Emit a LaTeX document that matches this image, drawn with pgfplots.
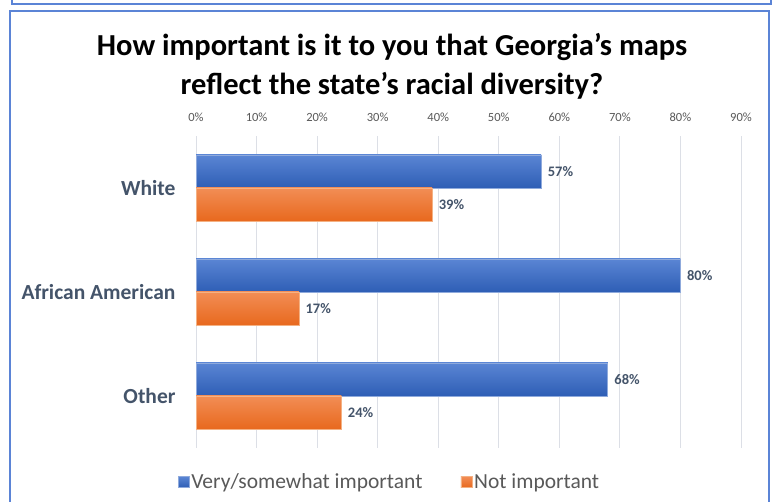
\documentclass[border=0pt]{standalone}
\usepackage{pgfplots}
\pgfplotsset{compat=1.18}
\usepackage{fontspec}
\setmainfont{Carlito}
\definecolor{boxblue}{HTML}{5B84D6}
\definecolor{blueT}{HTML}{5A85D4}
\definecolor{blueB}{HTML}{2E5EB5}
\definecolor{blueE}{HTML}{8FAADC}
\definecolor{orT}{HTML}{F28D55}
\definecolor{orB}{HTML}{E8691E}
\definecolor{orE}{HTML}{F4B183}
\definecolor{labgray}{HTML}{44546A}
\definecolor{tickgray}{HTML}{595959}
\definecolor{gridgray}{HTML}{DCDFE6}
\pgfplotsset{
  bluebar/.style={bar shift=16.5pt, top color=blueT, bottom color=blueB, draw=blueE, line width=0.6pt},
  orbar/.style={bar shift=-16.5pt, top color=orT, bottom color=orB, draw=orE, line width=0.6pt},
}
\begin{document}
\begin{tikzpicture}[x=1pt,y=1pt]
\useasboundingbox (0,0) rectangle (776,502);
\fill[white] (0,0) rectangle (776,502);
\draw[boxblue, line width=2pt] (12,510) -- (12,498) -- (771,498) -- (771,510);
\draw[boxblue, line width=2pt] (10,-10) -- (10,491) -- (769,491) -- (769,-10);
\node[font=\bfseries\fontsize{30.5}{39}\selectfont, align=center] at (392,436) {How important is it to you that Georgia’s maps\\reflect the state’s racial diversity?};
\begin{axis}[
  at={(196pt,54pt)}, anchor=south west,
  scale only axis, width=545pt, height=312pt,
  xmin=0, xmax=90, ymin=0.5, ymax=3.5,
  xtick={0,10,...,90},
  xticklabel pos=upper,
  xticklabel={\pgfmathprintnumber{\tick}\%},
  /pgf/number format/assume math mode=true,
  ytick={1,2,3},
  yticklabels={Other,African American,White},
  axis line style={draw=none},
  major tick length=0pt,
  xmajorgrids,
  grid style={color=gridgray, line width=0.8pt},
  xticklabel style={font=\fontsize{12.5}{14}\selectfont, text=tickgray, yshift=11pt},
  yticklabel style={font=\bfseries\fontsize{21.5}{24}\selectfont, text=labgray, xshift=-17pt},
  xbar, bar width=33pt,
  point meta=x,
  nodes near coords={\pgfmathprintnumber{\pgfplotspointmeta}\%},
  every node near coord/.append style={font=\bfseries\fontsize{14.5}{16}\selectfont, text=labgray, anchor=west, xshift=3pt},
  legend columns=2,
  legend style={draw=none, fill=none, font=\fontsize{21.5}{24}\selectfont, text=tickgray,
    at={(axis description cs:0.355,-0.109)}, anchor=center,
    /tikz/every even column/.append style={column sep=36pt}},
  legend image code/.code={\path[#1] (0pt,-5.5pt) rectangle (11pt,5.5pt);},
]
\addplot[bluebar] coordinates {(57,3)};
\addlegendentry{Very/somewhat important}
\addplot[orbar] coordinates {(39,3)};
\addlegendentry{Not important}
\addplot[bluebar, forget plot] coordinates {(80,2)};
\addplot[orbar, forget plot] coordinates {(17,2)};
\addplot[bluebar, forget plot] coordinates {(68,1)};
\addplot[orbar, forget plot] coordinates {(24,1)};
\end{axis}
\end{tikzpicture}
\end{document}
